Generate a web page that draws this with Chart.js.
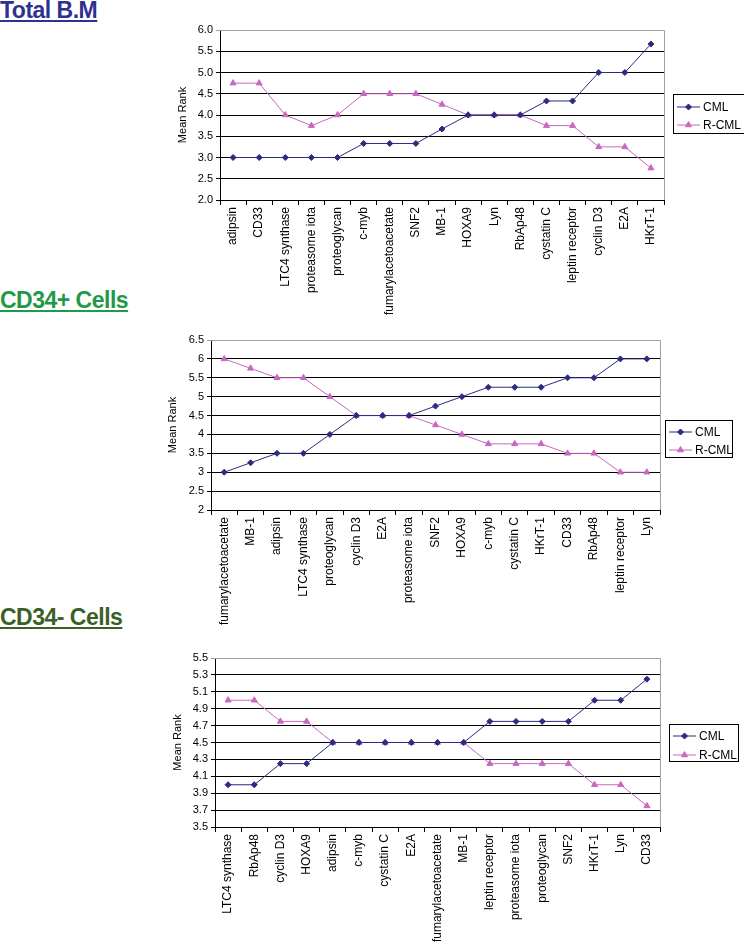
<!DOCTYPE html>
<html lang="en">
<head>
<meta charset="UTF-8">
<title>Mean Rank - CML / R-CML</title>
<style>
    body {
        margin: 0;
        background: #fff;
        width: 744px;
        height: 949px;
        position: relative;
        overflow: hidden;
        font-family: Arial, "Liberation Sans", sans-serif;
    }
    .titulo {
        position: absolute;
        left: 0;
        font-weight: bold;
        font-size: 23px;
        line-height: 23px;
        letter-spacing: -0.5px;
        text-decoration: underline;
        text-underline-offset: 2px;
        white-space: nowrap;
    }
    .chart-box {
        position: absolute;
        left: 140px;
    }
</style>
<script src="https://cdn.jsdelivr.net/npm/chart.js"></script>
</head>
<body>

<div class="titulo" style="top:-1px; color:#2e3192;">Total B.M</div>
<div class="titulo" style="top:289px; color:#1f9a48;">CD34+ Cells</div>
<div class="titulo" style="top:606px; color:#3b5f27;">CD34- Cells</div>

<div class="chart-box" style="top:20px;"><canvas id="bmChart" width="604" height="310"></canvas></div>
<div class="chart-box" style="top:330px;"><canvas id="posChart" width="604" height="310"></canvas></div>
<div class="chart-box" style="top:640px;"><canvas id="negChart" width="604" height="309"></canvas></div>

<script>
    // Total B.M
    const bmLabels = ['adipsin', 'CD33', 'LTC4 synthase', 'proteasome iota', 'proteoglycan', 'c-myb',
        'fumarylacetoacetate', 'SNF2', 'MB-1', 'HOXA9', 'Lyn', 'RbAp48', 'cystatin C',
        'leptin receptor', 'cyclin D3', 'E2A', 'HKrT-1'];
    const bmCML = [3.0, 3.0, 3.0, 3.0, 3.0, 3.33, 3.33, 3.33, 3.67, 4.0, 4.0, 4.0, 4.33, 4.33, 5.0, 5.0, 5.67];
    const bmRCML = [4.75, 4.75, 4.0, 3.75, 4.0, 4.5, 4.5, 4.5, 4.25, 4.0, 4.0, 4.0, 3.75, 3.75, 3.25, 3.25, 2.75];
    const bmTicks = ['2.0', '2.5', '3.0', '3.5', '4.0', '4.5', '5.0', '5.5', '6.0'];

    // CD34+ Cells
    const posLabels = ['fumarylacetoacetate', 'MB-1', 'adipsin', 'LTC4 synthase', 'proteoglycan', 'cyclin D3',
        'E2A', 'proteasome iota', 'SNF2', 'HOXA9', 'c-myb', 'cystatin C', 'HKrT-1', 'CD33',
        'RbAp48', 'leptin receptor', 'Lyn'];
    const posCML = [3, 3.25, 3.5, 3.5, 4, 4.5, 4.5, 4.5, 4.75, 5, 5.25, 5.25, 5.25, 5.5, 5.5, 6, 6];
    const posRCML = [6, 5.75, 5.5, 5.5, 5, 4.5, 4.5, 4.5, 4.25, 4, 3.75, 3.75, 3.75, 3.5, 3.5, 3, 3];
    const posTicks = ['2', '2.5', '3', '3.5', '4', '4.5', '5', '5.5', '6', '6.5'];

    // CD34- Cells
    const negLabels = ['LTC4 synthase', 'RbAp48', 'cyclin D3', 'HOXA9', 'adipsin', 'c-myb', 'cystatin C',
        'E2A', 'fumarylacetoacetate', 'MB-1', 'leptin receptor', 'proteasome iota', 'proteoglycan',
        'SNF2', 'HKrT-1', 'Lyn', 'CD33'];
    const negCML = [4.0, 4.0, 4.25, 4.25, 4.5, 4.5, 4.5, 4.5, 4.5, 4.5, 4.75, 4.75, 4.75, 4.75, 5.0, 5.0, 5.25];
    const negRCML = [5.0, 5.0, 4.75, 4.75, 4.5, 4.5, 4.5, 4.5, 4.5, 4.5, 4.25, 4.25, 4.25, 4.25, 4.0, 4.0, 3.75];
    const negTicks = ['3.5', '3.7', '3.9', '4.1', '4.3', '4.5', '4.7', '4.9', '5.1', '5.3', '5.5'];

    const CML_COLOR = '#2b2b80';
    const RCML_COLOR = '#c868c0';

    Chart.defaults.font.family = 'Arial, "Liberation Sans", sans-serif';
    Chart.defaults.font.size = 11;
    Chart.defaults.color = '#000';

    // marco gris arriba/derecha + leyenda con recuadro estilo Excel
    const boxLegend = {
        id: 'boxLegend',
        beforeDatasetsDraw(chart) {
            const a = chart.chartArea;
            const ctx = chart.ctx;
            ctx.save();
            ctx.strokeStyle = '#a0a0a0';
            ctx.lineWidth = 1;
            ctx.beginPath();
            ctx.moveTo(a.left, Math.round(a.top) + 0.5);
            ctx.lineTo(Math.round(a.right) + 0.5, Math.round(a.top) + 0.5);
            ctx.lineTo(Math.round(a.right) + 0.5, a.bottom);
            ctx.stroke();
            ctx.restore();
        },
        afterDraw(chart, args, opts) {
            const ctx = chart.ctx;
            ctx.save();
            ctx.fillStyle = '#fff';
            ctx.fillRect(opts.x, opts.y, opts.w, opts.h);
            ctx.strokeStyle = '#000';
            ctx.lineWidth = 1;
            ctx.strokeRect(opts.x + 0.5, opts.y + 0.5, opts.w - 1, opts.h - 1);
            chart.data.datasets.forEach((ds, i) => {
                const y = opts.y + opts.rows[i];
                ctx.strokeStyle = ds.borderColor;
                ctx.fillStyle = ds.backgroundColor;
                ctx.beginPath();
                ctx.moveTo(opts.x + 4, y);
                ctx.lineTo(opts.x + 27, y);
                ctx.stroke();
                Chart.helpers.drawPoint(ctx, {
                    pointStyle: ds.pointStyle, radius: ds.pointRadius, rotation: 0, borderWidth: 1
                }, opts.x + 15.5, y);
                ctx.fillStyle = '#000';
                ctx.font = '12px Arial, "Liberation Sans", sans-serif';
                ctx.textBaseline = 'middle';
                ctx.fillText(ds.label, opts.x + 30, y + 0.5);
            });
            ctx.restore();
        }
    };

    function crearGrafico(id, labels, cml, rcml, yTicks, g) {
        const yVals = yTicks.map(Number);
        const yMax = yVals[yVals.length - 1];
        new Chart(document.getElementById(id), {
            type: 'line',
            data: {
                labels: labels,
                datasets: [
                    {
                        label: 'CML',
                        data: cml,
                        borderColor: CML_COLOR,
                        backgroundColor: CML_COLOR,
                        borderWidth: 1,
                        pointStyle: 'rectRot',
                        pointRadius: 3,
                        pointBorderWidth: 1,
                        tension: 0
                    },
                    {
                        label: 'R-CML',
                        data: rcml,
                        borderColor: RCML_COLOR,
                        backgroundColor: RCML_COLOR,
                        borderWidth: 1,
                        pointStyle: 'triangle',
                        pointRadius: 3.5,
                        pointBorderWidth: 1,
                        tension: 0
                    }
                ]
            },
            options: {
                responsive: false,
                animation: false,
                events: [],
                layout: {
                    padding: { left: g.padLeft, top: g.top, right: g.padRight, bottom: 0 }
                },
                plugins: {
                    legend: { display: false },
                    tooltip: { enabled: false },
                    boxLegend: g.legend
                },
                scales: {
                    x: {
                        offset: true,
                        grid: { drawOnChartArea: false, offset: true, tickLength: 5, color: '#000' },
                        border: { color: '#000' },
                        ticks: { minRotation: 90, maxRotation: 90, autoSkip: false, padding: 2, font: { size: 12 } },
                        afterFit: s => { s.height = g.xHeight; }
                    },
                    y: {
                        min: yVals[0],
                        max: yMax,
                        grid: {
                            tickLength: 4,
                            color: c => (c.tick && c.tick.value === yMax) ? '#a0a0a0' : '#000'
                        },
                        border: { color: '#000' },
                        afterBuildTicks: s => { s.ticks = yVals.map(v => ({ value: v })); },
                        ticks: { padding: 3, callback: (v, i) => yTicks[i] },
                        title: { display: true, text: 'Mean Rank', padding: 0 },
                        afterFit: s => { s.width = g.yWidth; }
                    }
                }
            },
            plugins: [boxLegend]
        });
    }

    crearGrafico('bmChart', bmLabels, bmCML, bmRCML, bmTicks, {
        padLeft: 36, yWidth: 44, top: 10, padRight: 80, xHeight: 130,
        legend: { x: 533, y: 74, w: 72, h: 40, rows: [13, 31] }
    });
    crearGrafico('posChart', posLabels, posCML, posRCML, posTicks, {
        padLeft: 26, yWidth: 45, top: 10, padRight: 84, xHeight: 130,
        legend: { x: 525, y: 90, w: 68, h: 38, rows: [12, 30] }
    });
    crearGrafico('negChart', negLabels, negCML, negRCML, negTicks, {
        padLeft: 31, yWidth: 44, top: 18, padRight: 84, xHeight: 122,
        legend: { x: 529, y: 84, w: 70, h: 38, rows: [12, 31] }
    });
</script>
</body>
</html>
